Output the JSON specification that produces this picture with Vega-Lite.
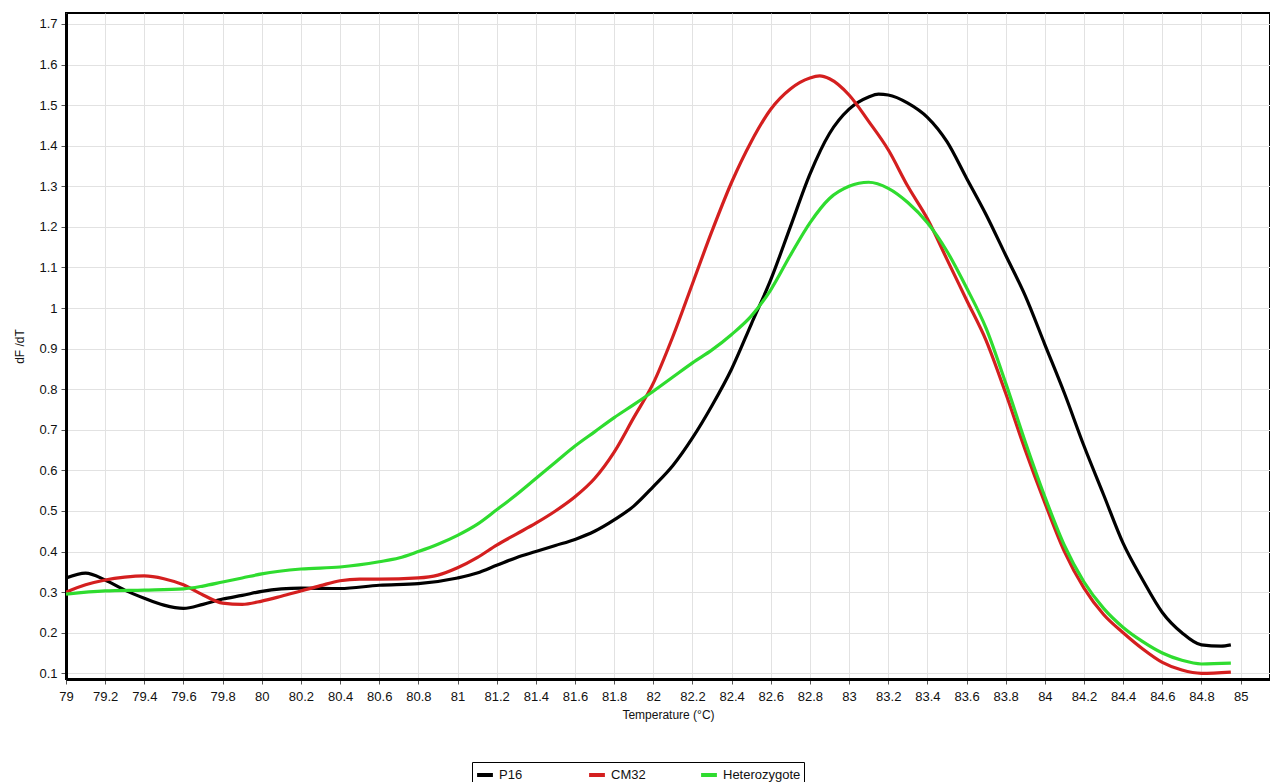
{
  "$schema": "https://vega.github.io/schema/vega-lite/v6.json",
  "autosize": "none",
  "width": 1204,
  "height": 666,
  "padding": {"left": 66, "top": 13, "right": 0, "bottom": 103},
  "background": "white",
  "config": {
    "font": "Liberation Sans Narrow, Liberation Sans, Arial",
    "view": {"stroke": "black", "strokeWidth": 2},
    "axis": {"labelFont": "Liberation Sans Narrow, Liberation Sans", "titleFont": "Liberation Sans Narrow, Liberation Sans", "labelFontSize": 13, "titleFontSize": 12, "titleFontWeight": "normal", "labelColor": "#111", "titleColor": "#111", "gridColor": "#e2e2e2", "gridWidth": 1, "domainColor": "black", "domainWidth": 3, "tickColor": "#555", "tickSize": 5}
  },
  "data": {"values": [
    {"s":"P16","t":79.0,"v":0.335},{"s":"P16","t":79.1,"v":0.347},{"s":"P16","t":79.2,"v":0.33},{"s":"P16","t":79.3,"v":0.305},{"s":"P16","t":79.4,"v":0.285},{"s":"P16","t":79.5,"v":0.268},{"s":"P16","t":79.6,"v":0.26},{"s":"P16","t":79.7,"v":0.27},{"s":"P16","t":79.8,"v":0.283},{"s":"P16","t":79.9,"v":0.292},{"s":"P16","t":80.0,"v":0.302},{"s":"P16","t":80.1,"v":0.308},{"s":"P16","t":80.2,"v":0.31},{"s":"P16","t":80.4,"v":0.309},{"s":"P16","t":80.6,"v":0.317},{"s":"P16","t":80.8,"v":0.321},{"s":"P16","t":81.0,"v":0.335},{"s":"P16","t":81.1,"v":0.347},{"s":"P16","t":81.2,"v":0.366},{"s":"P16","t":81.3,"v":0.385},{"s":"P16","t":81.4,"v":0.4},{"s":"P16","t":81.5,"v":0.415},{"s":"P16","t":81.6,"v":0.43},{"s":"P16","t":81.7,"v":0.45},{"s":"P16","t":81.8,"v":0.478},{"s":"P16","t":81.9,"v":0.512},{"s":"P16","t":82.0,"v":0.56},{"s":"P16","t":82.1,"v":0.612},{"s":"P16","t":82.2,"v":0.68},{"s":"P16","t":82.3,"v":0.76},{"s":"P16","t":82.4,"v":0.85},{"s":"P16","t":82.5,"v":0.96},{"s":"P16","t":82.6,"v":1.07},{"s":"P16","t":82.7,"v":1.2},{"s":"P16","t":82.8,"v":1.33},{"s":"P16","t":82.9,"v":1.43},{"s":"P16","t":83.0,"v":1.49},{"s":"P16","t":83.1,"v":1.52},{"s":"P16","t":83.15,"v":1.527},{"s":"P16","t":83.2,"v":1.525},{"s":"P16","t":83.3,"v":1.505},{"s":"P16","t":83.4,"v":1.47},{"s":"P16","t":83.5,"v":1.41},{"s":"P16","t":83.6,"v":1.32},{"s":"P16","t":83.7,"v":1.23},{"s":"P16","t":83.8,"v":1.13},{"s":"P16","t":83.9,"v":1.03},{"s":"P16","t":84.0,"v":0.91},{"s":"P16","t":84.1,"v":0.79},{"s":"P16","t":84.2,"v":0.66},{"s":"P16","t":84.3,"v":0.54},{"s":"P16","t":84.4,"v":0.42},{"s":"P16","t":84.5,"v":0.33},{"s":"P16","t":84.6,"v":0.25},{"s":"P16","t":84.7,"v":0.2},{"s":"P16","t":84.8,"v":0.17},{"s":"P16","t":84.9,"v":0.167},{"s":"P16","t":84.95,"v":0.17},
    {"s":"CM32","t":79.0,"v":0.3},{"s":"CM32","t":79.1,"v":0.318},{"s":"CM32","t":79.2,"v":0.33},{"s":"CM32","t":79.3,"v":0.337},{"s":"CM32","t":79.4,"v":0.34},{"s":"CM32","t":79.5,"v":0.333},{"s":"CM32","t":79.6,"v":0.318},{"s":"CM32","t":79.7,"v":0.293},{"s":"CM32","t":79.8,"v":0.273},{"s":"CM32","t":79.9,"v":0.27},{"s":"CM32","t":80.0,"v":0.278},{"s":"CM32","t":80.1,"v":0.29},{"s":"CM32","t":80.2,"v":0.303},{"s":"CM32","t":80.3,"v":0.316},{"s":"CM32","t":80.4,"v":0.328},{"s":"CM32","t":80.5,"v":0.332},{"s":"CM32","t":80.6,"v":0.332},{"s":"CM32","t":80.8,"v":0.335},{"s":"CM32","t":80.9,"v":0.342},{"s":"CM32","t":81.0,"v":0.36},{"s":"CM32","t":81.1,"v":0.385},{"s":"CM32","t":81.2,"v":0.416},{"s":"CM32","t":81.3,"v":0.443},{"s":"CM32","t":81.4,"v":0.47},{"s":"CM32","t":81.5,"v":0.5},{"s":"CM32","t":81.6,"v":0.535},{"s":"CM32","t":81.7,"v":0.58},{"s":"CM32","t":81.8,"v":0.645},{"s":"CM32","t":81.9,"v":0.73},{"s":"CM32","t":82.0,"v":0.815},{"s":"CM32","t":82.1,"v":0.93},{"s":"CM32","t":82.2,"v":1.06},{"s":"CM32","t":82.3,"v":1.19},{"s":"CM32","t":82.4,"v":1.31},{"s":"CM32","t":82.5,"v":1.41},{"s":"CM32","t":82.6,"v":1.49},{"s":"CM32","t":82.7,"v":1.54},{"s":"CM32","t":82.8,"v":1.567},{"s":"CM32","t":82.85,"v":1.572},{"s":"CM32","t":82.9,"v":1.565},{"s":"CM32","t":83.0,"v":1.525},{"s":"CM32","t":83.1,"v":1.46},{"s":"CM32","t":83.2,"v":1.39},{"s":"CM32","t":83.3,"v":1.3},{"s":"CM32","t":83.4,"v":1.22},{"s":"CM32","t":83.5,"v":1.12},{"s":"CM32","t":83.6,"v":1.02},{"s":"CM32","t":83.7,"v":0.92},{"s":"CM32","t":83.8,"v":0.79},{"s":"CM32","t":83.9,"v":0.65},{"s":"CM32","t":84.0,"v":0.52},{"s":"CM32","t":84.1,"v":0.4},{"s":"CM32","t":84.2,"v":0.31},{"s":"CM32","t":84.3,"v":0.245},{"s":"CM32","t":84.4,"v":0.2},{"s":"CM32","t":84.5,"v":0.16},{"s":"CM32","t":84.6,"v":0.127},{"s":"CM32","t":84.7,"v":0.108},{"s":"CM32","t":84.8,"v":0.1},{"s":"CM32","t":84.95,"v":0.103},
    {"s":"Heterozygote","t":79.0,"v":0.295},{"s":"Heterozygote","t":79.2,"v":0.303},{"s":"Heterozygote","t":79.4,"v":0.305},{"s":"Heterozygote","t":79.6,"v":0.308},{"s":"Heterozygote","t":79.7,"v":0.315},{"s":"Heterozygote","t":79.8,"v":0.325},{"s":"Heterozygote","t":79.9,"v":0.335},{"s":"Heterozygote","t":80.0,"v":0.345},{"s":"Heterozygote","t":80.2,"v":0.357},{"s":"Heterozygote","t":80.4,"v":0.362},{"s":"Heterozygote","t":80.6,"v":0.375},{"s":"Heterozygote","t":80.7,"v":0.384},{"s":"Heterozygote","t":80.8,"v":0.4},{"s":"Heterozygote","t":80.9,"v":0.418},{"s":"Heterozygote","t":81.0,"v":0.44},{"s":"Heterozygote","t":81.1,"v":0.467},{"s":"Heterozygote","t":81.2,"v":0.503},{"s":"Heterozygote","t":81.3,"v":0.54},{"s":"Heterozygote","t":81.4,"v":0.58},{"s":"Heterozygote","t":81.5,"v":0.62},{"s":"Heterozygote","t":81.6,"v":0.66},{"s":"Heterozygote","t":81.7,"v":0.695},{"s":"Heterozygote","t":81.8,"v":0.73},{"s":"Heterozygote","t":81.9,"v":0.762},{"s":"Heterozygote","t":82.0,"v":0.795},{"s":"Heterozygote","t":82.1,"v":0.83},{"s":"Heterozygote","t":82.2,"v":0.865},{"s":"Heterozygote","t":82.3,"v":0.897},{"s":"Heterozygote","t":82.4,"v":0.935},{"s":"Heterozygote","t":82.5,"v":0.98},{"s":"Heterozygote","t":82.6,"v":1.045},{"s":"Heterozygote","t":82.7,"v":1.13},{"s":"Heterozygote","t":82.8,"v":1.21},{"s":"Heterozygote","t":82.9,"v":1.27},{"s":"Heterozygote","t":83.0,"v":1.3},{"s":"Heterozygote","t":83.1,"v":1.31},{"s":"Heterozygote","t":83.2,"v":1.295},{"s":"Heterozygote","t":83.3,"v":1.26},{"s":"Heterozygote","t":83.4,"v":1.21},{"s":"Heterozygote","t":83.5,"v":1.14},{"s":"Heterozygote","t":83.6,"v":1.05},{"s":"Heterozygote","t":83.7,"v":0.95},{"s":"Heterozygote","t":83.8,"v":0.815},{"s":"Heterozygote","t":83.9,"v":0.67},{"s":"Heterozygote","t":84.0,"v":0.535},{"s":"Heterozygote","t":84.1,"v":0.415},{"s":"Heterozygote","t":84.2,"v":0.325},{"s":"Heterozygote","t":84.3,"v":0.26},{"s":"Heterozygote","t":84.4,"v":0.213},{"s":"Heterozygote","t":84.5,"v":0.178},{"s":"Heterozygote","t":84.6,"v":0.15},{"s":"Heterozygote","t":84.7,"v":0.132},{"s":"Heterozygote","t":84.8,"v":0.123},{"s":"Heterozygote","t":84.95,"v":0.125}
  ]},
  "mark": {"type": "line", "interpolate": "monotone", "strokeWidth": 3.2, "clip": true},
  "encoding": {
    "x": {"field": "t", "type": "quantitative", "title": "Temperature (°C)",
      "scale": {"domain": [79, 85.15], "nice": false, "zero": false},
      "axis": {"values": [79,79.2,79.4,79.6,79.8,80,80.2,80.4,80.6,80.8,81,81.2,81.4,81.6,81.8,82,82.2,82.4,82.6,82.8,83,83.2,83.4,83.6,83.8,84,84.2,84.4,84.6,84.8,85], "format": ".1~f", "labelPadding": 6, "titlePadding": 6, "labelFlush": false}},
    "y": {"field": "v", "type": "quantitative", "title": "dF /dT",
      "scale": {"domain": [0.086, 1.727], "nice": false, "zero": false},
      "axis": {"values": [0.1,0.2,0.3,0.4,0.5,0.6,0.7,0.8,0.9,1,1.1,1.2,1.3,1.4,1.5,1.6,1.7], "format": ".1~f", "labelPadding": 4, "titlePadding": 12}},
    "color": {"field": "s", "type": "nominal", "sort": ["P16", "CM32", "Heterozygote"],
      "scale": {"domain": ["P16", "CM32", "Heterozygote"], "range": ["#000000", "#d41f1f", "#2fdc2f"]},
      "legend": {"title": null, "orient": "none", "legendX": 406, "legendY": 749, "direction": "horizontal", "columns": 3, "gridAlign": "all", "columnPadding": 4, "symbolType": "stroke", "symbolStrokeWidth": 4, "symbolSize": 250, "labelFontSize": 13, "labelFont": "Liberation Sans Narrow, Liberation Sans", "labelColor": "#111", "strokeColor": "black", "padding": 3, "symbolOffset": 0}},
    "order": {"field": "s", "sort": "ascending"}
  }
}
